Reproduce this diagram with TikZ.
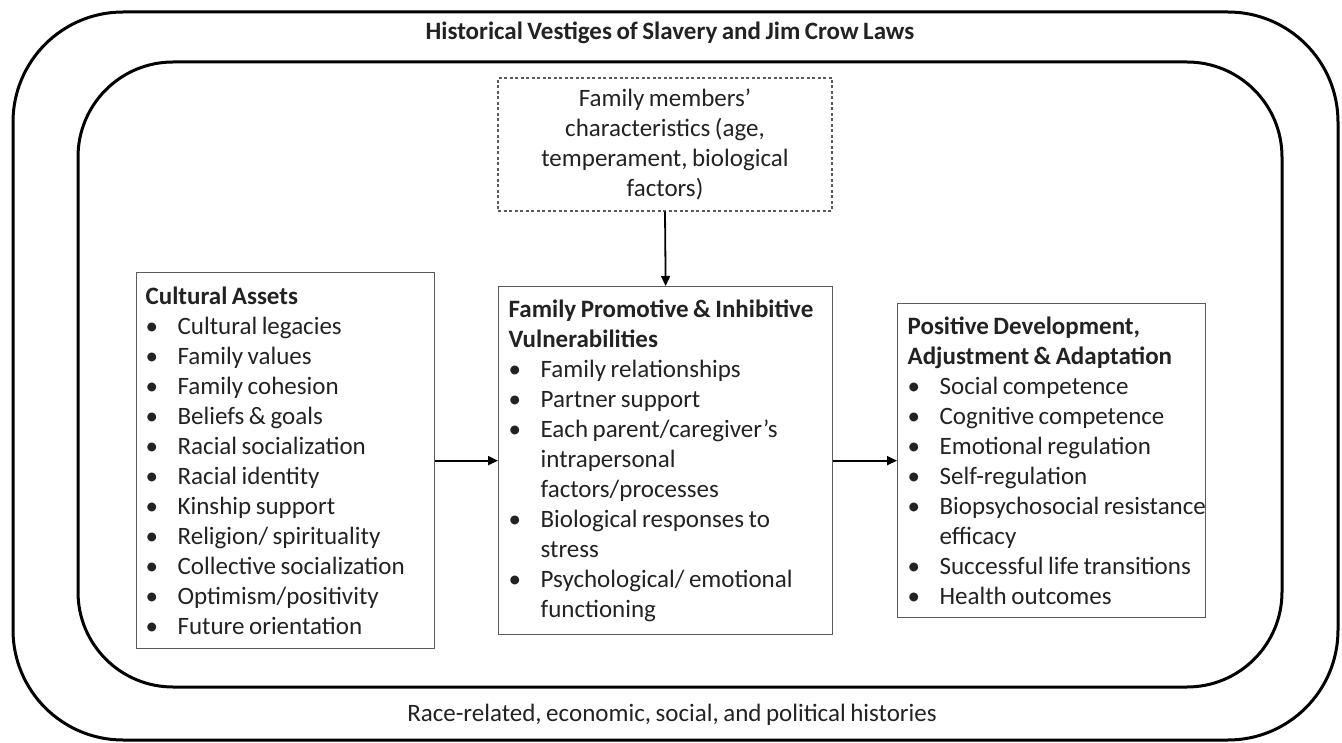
\documentclass[tikz,border=0pt]{standalone}
\usepackage{fontspec}
\setmainfont{Carlito}[WordSpace={0.8,0,0}]
\usetikzlibrary{arrows.meta}
\definecolor{txt}{HTML}{222222}
\definecolor{boxgray}{HTML}{5A5A5A}
\newcommand{\bl}[1]{\makebox[32pt][l]{\textbullet}\mbox{#1}}
\newcommand{\cl}[1]{\hspace*{32pt}\mbox{#1}}
\newcommand{\nsk}{\spaceskip=0pt\xspaceskip=0pt\relax}
\begin{document}
\begin{tikzpicture}[x=1pt,y=-1pt,
  frame/.style={draw=black, line width=3pt},
  box/.style={draw=boxgray, line width=1.3pt, inner ysep=0pt, align=left,
    anchor=north west, text=txt, font=\fontsize{25}{30}\selectfont},
  dbox/.style={draw=boxgray, line width=1.1pt, dash pattern=on 3pt off 2.5pt,
    align=center, text=txt, font=\fontsize{25}{30}\selectfont, inner sep=0pt},
  lbl/.style={text=txt, font=\fontsize{25}{30}\selectfont},
  arr/.style={draw=black, line width=1.8pt, -{Triangle[length=10pt,width=9pt]}}
]
\useasboundingbox (0,0) rectangle (1342,743);
\draw[frame, rounded corners=110pt] (13,12) rectangle (1338,740);
\draw[frame, rounded corners=95pt] (78,62) rectangle (1282,687);

\node[lbl, font=\fontsize{25}{30}\selectfont\bfseries] (hv) at (670,33) {Historical Vestiges of Slavery and Jim Crow Laws};
\node[lbl] (rr) at (672,715) {Race-related, economic, social, and political histories};

\node[dbox, minimum width=334pt, minimum height=133pt] (fm) at (665,144.5)
  {\nsk Family members’\\characteristics (age,\\temperament, biological\\factors)};

\node[box, inner xsep=9pt, text width=280pt, minimum height=376pt] (ca) at (136,272) {\nsk
\textbf{Cultural Assets}\\
\bl{Cultural legacies}\\
\bl{Family values}\\
\bl{Family cohesion}\\
\bl{Beliefs \& goals}\\
\bl{Racial socialization}\\
\bl{Racial identity}\\
\bl{Kinship support}\\
\bl{Religion/ spirituality}\\
\bl{Collective socialization}\\
\bl{Optimism/positivity}\\
\bl{Future orientation}};

\node[box, inner xsep=10pt, text width=314pt, minimum height=348pt] (fp) at (498,286) {\nsk
\mbox{\textbf{Family Promotive \& Inhibitive}}\\
\textbf{Vulnerabilities}\\
\bl{Family relationships}\\
\bl{Partner support}\\
\bl{Each parent/caregiver’s}\\
\cl{intrapersonal}\\
\cl{factors/processes}\\
\bl{Biological responses to}\\
\cl{stress}\\
\bl{Psychological/ emotional}\\
\cl{functioning}};

\node[box, inner xsep=10pt, text width=288pt, minimum height=314pt] (pd) at (897,303) {\nsk
\mbox{\textbf{Positive Development,}}\\
\mbox{\textbf{Adjustment \& Adaptation}}\\
\bl{Social competence}\\
\bl{Cognitive competence}\\
\bl{Emotional regulation}\\
\bl{Self-regulation}\\
\bl{Biopsychosocial resistance}\\
\cl{efficacy}\\
\bl{Successful life transitions}\\
\bl{Health outcomes}};

\draw[arr] (fm.south) -- (fp.north);
\draw[arr] (ca.east) -- (fp.west);
\draw[arr] (fp.east) -- (fp.east -| pd.west);
\end{tikzpicture}
\end{document}
